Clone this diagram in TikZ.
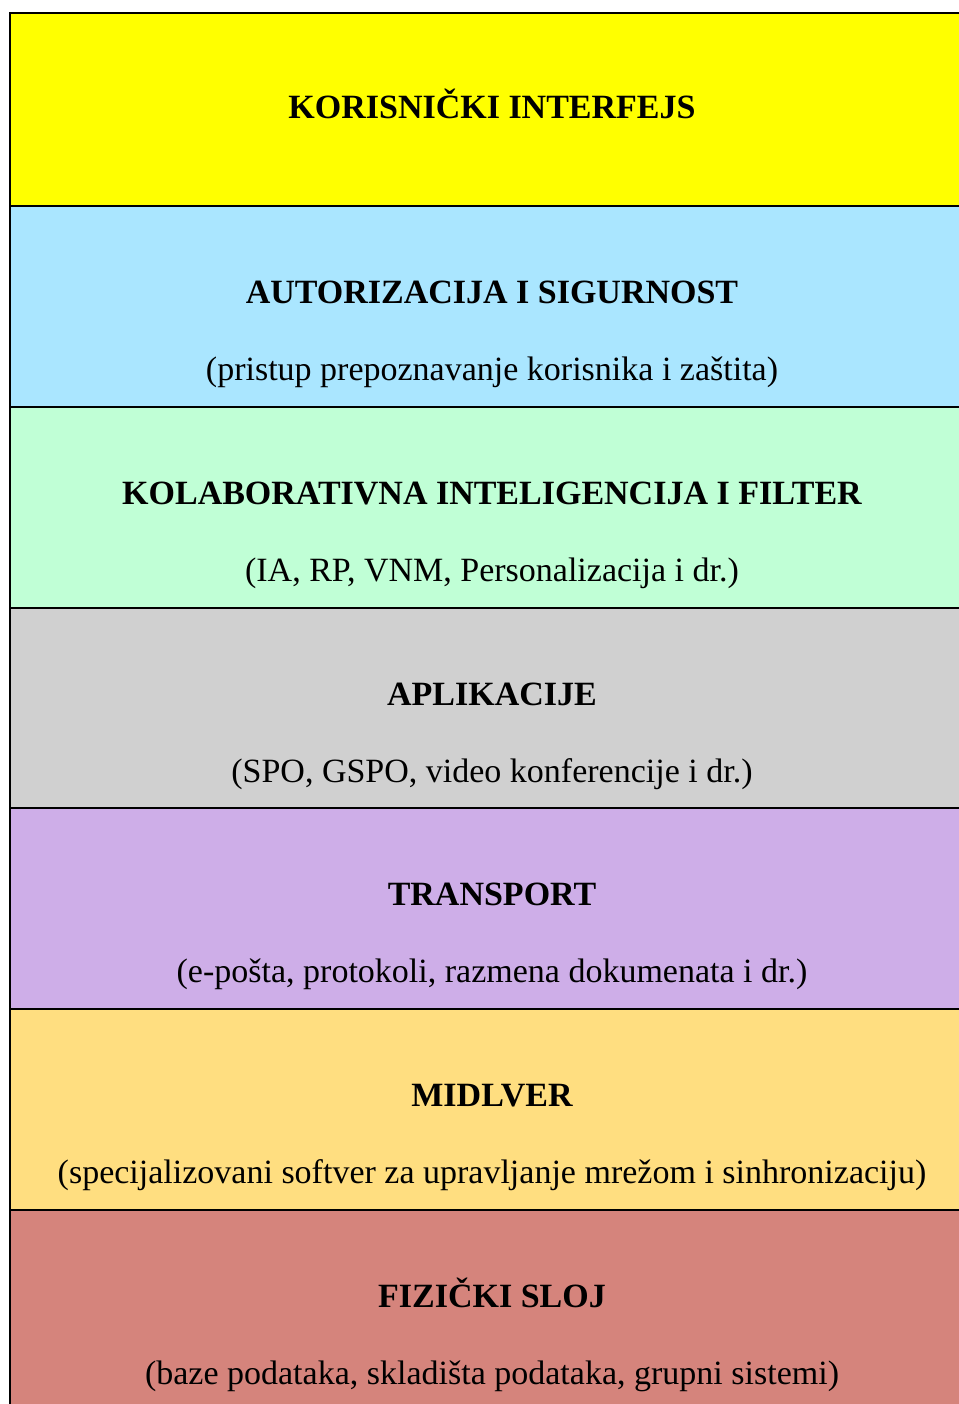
\documentclass[tikz,border=0pt]{standalone}
\usepackage{fontspec}
\setmainfont{Liberation Serif}
\usetikzlibrary{positioning}
\definecolor{zuta}{RGB}{255,255,0}
\definecolor{plava}{RGB}{170,230,255}
\definecolor{zelena}{RGB}{192,255,214}
\definecolor{siva}{RGB}{208,208,208}
\definecolor{ljubicasta}{RGB}{206,174,232}
\definecolor{narandzasta}{RGB}{255,222,128}
\definecolor{roze}{RGB}{213,132,124}
\tikzset{
  sloj/.style={draw=black, line width=2pt, anchor=north west, minimum width=964pt, minimum height=201pt, inner sep=0pt},
  naslov/.style={anchor=base, font=\fontsize{34}{40}\selectfont\bfseries},
  opis/.style={anchor=base, font=\fontsize{34}{40}\selectfont}
}

\begin{document}
\begin{tikzpicture}[x=1pt,y=-1pt]
\useasboundingbox (0,0) rectangle (958,1404);

% slojevi
\node[sloj, fill=zuta, minimum height=193pt] (ui) at (9,12) {};
\node[sloj, fill=plava] (aut) at (9,205) {};
\node[sloj, fill=zelena] (kol) at (9,406) {};
\node[sloj, fill=siva] (apl) at (9,607) {};
\node[sloj, fill=ljubicasta] (tra) at (9,807) {};
\node[sloj, fill=narandzasta] (mid) at (9,1008) {};
\node[sloj, fill=roze] (fiz) at (9,1209) {};

% tekst
\node[naslov] (uiNaslov) at ([yshift=-107pt]ui.north) {KORISNIČKI INTERFEJS};
\node[naslov] (autNaslov) at ([yshift=-98pt]aut.north) {AUTORIZACIJA I SIGURNOST};
\node[opis] (autOpis) at ([yshift=-175pt]aut.north) {(pristup prepoznavanje korisnika i zaštita)};
\node[naslov] (kolNaslov) at ([yshift=-98pt]kol.north) {KOLABORATIVNA INTELIGENCIJA I FILTER};
\node[opis] (kolOpis) at ([yshift=-175pt]kol.north) {(IA, RP, VNM, Personalizacija i dr.)};
\node[naslov] (aplNaslov) at ([yshift=-98pt]apl.north) {APLIKACIJE};
\node[opis] (aplOpis) at ([yshift=-175pt]apl.north) {(SPO, GSPO, video konferencije i dr.)};
\node[naslov] (traNaslov) at ([yshift=-98pt]tra.north) {TRANSPORT};
\node[opis] (traOpis) at ([yshift=-175pt]tra.north) {(e-pošta, protokoli, razmena dokumenata i dr.)};
\node[naslov] (midNaslov) at ([yshift=-98pt]mid.north) {MIDLVER};
\node[opis] (midOpis) at ([yshift=-175pt]mid.north) {(specijalizovani softver za upravljanje mrežom i sinhronizaciju)};
\node[naslov] (fizNaslov) at ([yshift=-98pt]fiz.north) {FIZIČKI SLOJ};
\node[opis] (fizOpis) at ([yshift=-175pt]fiz.north) {(baze podataka, skladišta podataka, grupni sistemi)};

\end{tikzpicture}
\end{document}
